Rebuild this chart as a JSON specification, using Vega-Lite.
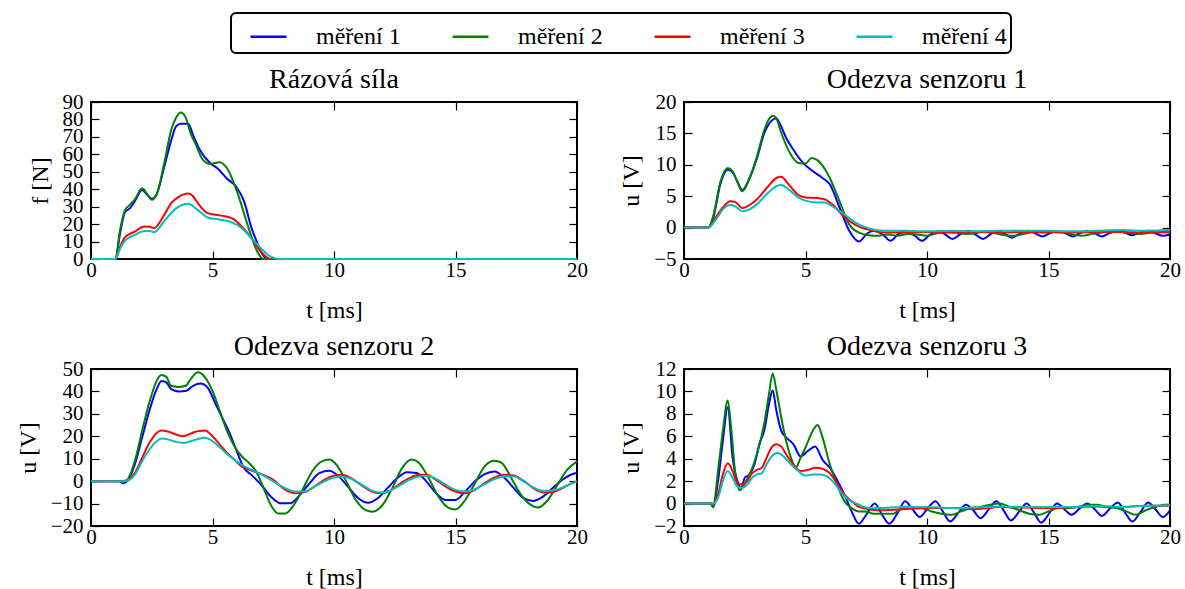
{
"$schema":"https://vega.github.io/schema/vega-lite/v6.json",
"background":"white",
"padding":{"left":15,"top":12,"right":0,"bottom":5},
"datasets":{"d":[
{"p":1,"s":"měření 1","t":0,"v":0},{"p":1,"s":"měření 1","t":1.0,"v":0},{"p":1,"s":"měření 1","t":1.2,"v":15},{"p":1,"s":"měření 1","t":1.4,"v":27},{"p":1,"s":"měření 1","t":1.6,"v":29},{"p":1,"s":"měření 1","t":1.8,"v":33},{"p":1,"s":"měření 1","t":2.1,"v":39.5},{"p":1,"s":"měření 1","t":2.3,"v":37},{"p":1,"s":"měření 1","t":2.5,"v":34.5},{"p":1,"s":"měření 1","t":2.7,"v":37},{"p":1,"s":"měření 1","t":3.0,"v":52},{"p":1,"s":"měření 1","t":3.3,"v":68},{"p":1,"s":"měření 1","t":3.5,"v":76},{"p":1,"s":"měření 1","t":3.7,"v":77.5},{"p":1,"s":"měření 1","t":4.0,"v":77.5},{"p":1,"s":"měření 1","t":4.2,"v":71},{"p":1,"s":"měření 1","t":4.5,"v":62},{"p":1,"s":"měření 1","t":4.9,"v":55},{"p":1,"s":"měření 1","t":5.2,"v":52},{"p":1,"s":"měření 1","t":5.6,"v":46},{"p":1,"s":"měření 1","t":6.0,"v":41},{"p":1,"s":"měření 1","t":6.3,"v":33},{"p":1,"s":"měření 1","t":6.6,"v":18},{"p":1,"s":"měření 1","t":6.85,"v":9},{"p":1,"s":"měření 1","t":7.0,"v":4},{"p":1,"s":"měření 1","t":7.3,"v":0},{"p":1,"s":"měření 1","t":20,"v":0},
{"p":1,"s":"měření 2","t":0,"v":0},{"p":1,"s":"měření 2","t":1.0,"v":0},{"p":1,"s":"měření 2","t":1.2,"v":17},{"p":1,"s":"měření 2","t":1.4,"v":28},{"p":1,"s":"měření 2","t":1.6,"v":31},{"p":1,"s":"měření 2","t":1.8,"v":34},{"p":1,"s":"měření 2","t":2.1,"v":40.5},{"p":1,"s":"měření 2","t":2.3,"v":37.5},{"p":1,"s":"měření 2","t":2.5,"v":34},{"p":1,"s":"měření 2","t":2.7,"v":37},{"p":1,"s":"měření 2","t":3.0,"v":54},{"p":1,"s":"měření 2","t":3.3,"v":74},{"p":1,"s":"měření 2","t":3.5,"v":81},{"p":1,"s":"měření 2","t":3.7,"v":84},{"p":1,"s":"měření 2","t":3.9,"v":81},{"p":1,"s":"měření 2","t":4.1,"v":72},{"p":1,"s":"měření 2","t":4.3,"v":66},{"p":1,"s":"měření 2","t":4.6,"v":57},{"p":1,"s":"měření 2","t":4.9,"v":54.5},{"p":1,"s":"měření 2","t":5.3,"v":55.5},{"p":1,"s":"měření 2","t":5.6,"v":52},{"p":1,"s":"měření 2","t":6.0,"v":39},{"p":1,"s":"měření 2","t":6.4,"v":21.5},{"p":1,"s":"měření 2","t":6.6,"v":13},{"p":1,"s":"měření 2","t":6.85,"v":4},{"p":1,"s":"měření 2","t":7.1,"v":0},{"p":1,"s":"měření 2","t":20,"v":0},
{"p":1,"s":"měření 3","t":0,"v":0},{"p":1,"s":"měření 3","t":1.0,"v":0},{"p":1,"s":"měření 3","t":1.2,"v":7},{"p":1,"s":"měření 3","t":1.4,"v":12.5},{"p":1,"s":"měření 3","t":1.8,"v":15.7},{"p":1,"s":"měření 3","t":2.2,"v":18.6},{"p":1,"s":"měření 3","t":2.4,"v":18.5},{"p":1,"s":"měření 3","t":2.6,"v":17.7},{"p":1,"s":"měření 3","t":3.0,"v":25},{"p":1,"s":"měření 3","t":3.3,"v":32},{"p":1,"s":"měření 3","t":3.6,"v":35.5},{"p":1,"s":"měření 3","t":4.0,"v":37.5},{"p":1,"s":"měření 3","t":4.2,"v":36},{"p":1,"s":"měření 3","t":4.4,"v":32},{"p":1,"s":"měření 3","t":4.8,"v":26.3},{"p":1,"s":"měření 3","t":5.3,"v":25},{"p":1,"s":"měření 3","t":5.8,"v":23.4},{"p":1,"s":"měření 3","t":6.2,"v":18.6},{"p":1,"s":"měření 3","t":6.6,"v":12},{"p":1,"s":"měření 3","t":7.0,"v":4},{"p":1,"s":"měření 3","t":7.4,"v":0},{"p":1,"s":"měření 3","t":20,"v":0},
{"p":1,"s":"měření 4","t":0,"v":0},{"p":1,"s":"měření 4","t":1.0,"v":0},{"p":1,"s":"měření 4","t":1.2,"v":6},{"p":1,"s":"měření 4","t":1.4,"v":10.5},{"p":1,"s":"měření 4","t":1.8,"v":13.8},{"p":1,"s":"měření 4","t":2.2,"v":16},{"p":1,"s":"měření 4","t":2.4,"v":16},{"p":1,"s":"měření 4","t":2.6,"v":15.4},{"p":1,"s":"měření 4","t":3.0,"v":21.5},{"p":1,"s":"měření 4","t":3.5,"v":29},{"p":1,"s":"měření 4","t":4.0,"v":31.7},{"p":1,"s":"měření 4","t":4.4,"v":28},{"p":1,"s":"měření 4","t":4.8,"v":23.8},{"p":1,"s":"měření 4","t":5.3,"v":22.5},{"p":1,"s":"měření 4","t":5.8,"v":21},{"p":1,"s":"měření 4","t":6.2,"v":17.7},{"p":1,"s":"měření 4","t":6.6,"v":12},{"p":1,"s":"měření 4","t":7.0,"v":6},{"p":1,"s":"měření 4","t":7.4,"v":1.3},{"p":1,"s":"měření 4","t":7.7,"v":0},{"p":1,"s":"měření 4","t":20,"v":0},
{"p":2,"s":"měření 1","t":0,"v":0},{"p":2,"s":"měření 1","t":1.0,"v":0},{"p":2,"s":"měření 1","t":1.2,"v":1.5},{"p":2,"s":"měření 1","t":1.5,"v":7},{"p":2,"s":"měření 1","t":1.8,"v":9.2},{"p":2,"s":"měření 1","t":2.0,"v":8.8},{"p":2,"s":"měření 1","t":2.2,"v":7.3},{"p":2,"s":"měření 1","t":2.4,"v":6},{"p":2,"s":"měření 1","t":2.7,"v":7.9},{"p":2,"s":"měření 1","t":3.0,"v":11},{"p":2,"s":"měření 1","t":3.3,"v":15},{"p":2,"s":"měření 1","t":3.6,"v":17},{"p":2,"s":"měření 1","t":3.8,"v":17.4},{"p":2,"s":"měření 1","t":3.9,"v":16.9},{"p":2,"s":"měření 1","t":4.2,"v":14.3},{"p":2,"s":"měření 1","t":4.5,"v":12.4},{"p":2,"s":"měření 1","t":4.9,"v":10.3},{"p":2,"s":"měření 1","t":5.3,"v":9},{"p":2,"s":"měření 1","t":5.7,"v":7.9},{"p":2,"s":"měření 1","t":6.0,"v":6.9},{"p":2,"s":"měření 1","t":6.4,"v":3.2},{"p":2,"s":"měření 1","t":6.8,"v":-0.5},{"p":2,"s":"měření 1","t":7.2,"v":-2.2},{"p":2,"s":"měření 1","t":7.55,"v":-0.9},{"p":2,"s":"měření 1","t":7.85,"v":-0.5},{"p":2,"s":"měření 1","t":8.2,"v":-1.2},{"p":2,"s":"měření 1","t":8.5,"v":-2.1},{"p":2,"s":"měření 1","t":8.8,"v":-1.1},{"p":2,"s":"měření 1","t":9.15,"v":-0.5},{"p":2,"s":"měření 1","t":9.5,"v":-1.3},{"p":2,"s":"měření 1","t":9.8,"v":-2.1},{"p":2,"s":"měření 1","t":10.1,"v":-1.2},{"p":2,"s":"měření 1","t":10.45,"v":-0.6},{"p":2,"s":"měření 1","t":10.75,"v":-1.1},{"p":2,"s":"měření 1","t":11.05,"v":-1.8},{"p":2,"s":"měření 1","t":11.35,"v":-1.1},{"p":2,"s":"měření 1","t":11.7,"v":-0.5},{"p":2,"s":"měření 1","t":12.0,"v":-1.1},{"p":2,"s":"měření 1","t":12.3,"v":-1.8},{"p":2,"s":"měření 1","t":12.6,"v":-1.1},{"p":2,"s":"měření 1","t":12.9,"v":-0.6},{"p":2,"s":"měření 1","t":13.2,"v":-1.0},{"p":2,"s":"měření 1","t":13.5,"v":-1.6},{"p":2,"s":"měření 1","t":13.8,"v":-1.0},{"p":2,"s":"měření 1","t":14.15,"v":-0.5},{"p":2,"s":"měření 1","t":14.45,"v":-0.9},{"p":2,"s":"měření 1","t":14.75,"v":-1.4},{"p":2,"s":"měření 1","t":15.05,"v":-0.9},{"p":2,"s":"měření 1","t":15.4,"v":-0.5},{"p":2,"s":"měření 1","t":15.7,"v":-0.9},{"p":2,"s":"měření 1","t":16.0,"v":-1.4},{"p":2,"s":"měření 1","t":16.3,"v":-0.9},{"p":2,"s":"měření 1","t":16.6,"v":-0.5},{"p":2,"s":"měření 1","t":16.9,"v":-0.9},{"p":2,"s":"měření 1","t":17.2,"v":-1.4},{"p":2,"s":"měření 1","t":17.5,"v":-0.9},{"p":2,"s":"měření 1","t":17.85,"v":-0.5},{"p":2,"s":"měření 1","t":18.15,"v":-0.8},{"p":2,"s":"měření 1","t":18.45,"v":-1.2},{"p":2,"s":"měření 1","t":18.75,"v":-0.8},{"p":2,"s":"měření 1","t":19.1,"v":-0.5},{"p":2,"s":"měření 1","t":19.4,"v":-0.9},{"p":2,"s":"měření 1","t":19.7,"v":-1.3},{"p":2,"s":"měření 1","t":20,"v":-1.1},
{"p":2,"s":"měření 2","t":0,"v":0},{"p":2,"s":"měření 2","t":1.0,"v":0},{"p":2,"s":"měření 2","t":1.2,"v":1.8},{"p":2,"s":"měření 2","t":1.5,"v":7.3},{"p":2,"s":"měření 2","t":1.8,"v":9.5},{"p":2,"s":"měření 2","t":2.0,"v":9.0},{"p":2,"s":"měření 2","t":2.2,"v":7.2},{"p":2,"s":"měření 2","t":2.4,"v":5.8},{"p":2,"s":"měření 2","t":2.7,"v":7.9},{"p":2,"s":"měření 2","t":3.0,"v":11.3},{"p":2,"s":"měření 2","t":3.3,"v":15.5},{"p":2,"s":"měření 2","t":3.5,"v":17.3},{"p":2,"s":"měření 2","t":3.65,"v":17.8},{"p":2,"s":"měření 2","t":3.8,"v":17.4},{"p":2,"s":"měření 2","t":4.0,"v":15.1},{"p":2,"s":"měření 2","t":4.4,"v":11.6},{"p":2,"s":"měření 2","t":4.7,"v":10.3},{"p":2,"s":"měření 2","t":5.0,"v":10.2},{"p":2,"s":"měření 2","t":5.25,"v":11.1},{"p":2,"s":"měření 2","t":5.5,"v":10.7},{"p":2,"s":"měření 2","t":5.8,"v":9.3},{"p":2,"s":"měření 2","t":6.0,"v":7.9},{"p":2,"s":"měření 2","t":6.4,"v":4.2},{"p":2,"s":"měření 2","t":6.8,"v":0.5},{"p":2,"s":"měření 2","t":7.2,"v":-0.8},{"p":2,"s":"měření 2","t":7.6,"v":-1.2},{"p":2,"s":"měření 2","t":8.0,"v":-1.3},{"p":2,"s":"měření 2","t":8.4,"v":-1.1},{"p":2,"s":"měření 2","t":8.8,"v":-1.3},{"p":2,"s":"měření 2","t":9.2,"v":-1.0},{"p":2,"s":"měření 2","t":9.6,"v":-1.1},{"p":2,"s":"měření 2","t":10.0,"v":-1.3},{"p":2,"s":"měření 2","t":10.4,"v":-0.9},{"p":2,"s":"měření 2","t":10.8,"v":-0.7},{"p":2,"s":"měření 2","t":11.2,"v":-0.8},{"p":2,"s":"měření 2","t":11.6,"v":-1.0},{"p":2,"s":"měření 2","t":12.0,"v":-0.9},{"p":2,"s":"měření 2","t":12.4,"v":-0.6},{"p":2,"s":"měření 2","t":12.8,"v":-0.9},{"p":2,"s":"měření 2","t":13.2,"v":-1.2},{"p":2,"s":"měření 2","t":13.6,"v":-1.3},{"p":2,"s":"měření 2","t":14.0,"v":-1.0},{"p":2,"s":"měření 2","t":14.4,"v":-0.7},{"p":2,"s":"měření 2","t":14.8,"v":-0.8},{"p":2,"s":"měření 2","t":15.2,"v":-0.7},{"p":2,"s":"měření 2","t":15.6,"v":-0.8},{"p":2,"s":"měření 2","t":16.0,"v":-1.1},{"p":2,"s":"měření 2","t":16.4,"v":-1.3},{"p":2,"s":"měření 2","t":16.8,"v":-1.0},{"p":2,"s":"měření 2","t":17.2,"v":-0.8},{"p":2,"s":"měření 2","t":17.6,"v":-0.6},{"p":2,"s":"měření 2","t":18.0,"v":-0.7},{"p":2,"s":"měření 2","t":18.4,"v":-0.9},{"p":2,"s":"měření 2","t":18.8,"v":-1.0},{"p":2,"s":"měření 2","t":19.2,"v":-0.8},{"p":2,"s":"měření 2","t":19.6,"v":-0.7},{"p":2,"s":"měření 2","t":20,"v":-0.8},
{"p":2,"s":"měření 3","t":0,"v":0},{"p":2,"s":"měření 3","t":1.0,"v":0},{"p":2,"s":"měření 3","t":1.3,"v":1.6},{"p":2,"s":"měření 3","t":1.6,"v":3.2},{"p":2,"s":"měření 3","t":1.9,"v":4.2},{"p":2,"s":"měření 3","t":2.1,"v":4.1},{"p":2,"s":"měření 3","t":2.4,"v":3.1},{"p":2,"s":"měření 3","t":2.7,"v":3.6},{"p":2,"s":"měření 3","t":3.0,"v":4.5},{"p":2,"s":"měření 3","t":3.4,"v":6.3},{"p":2,"s":"měření 3","t":3.8,"v":7.9},{"p":2,"s":"měření 3","t":4.0,"v":8.1},{"p":2,"s":"měření 3","t":4.3,"v":6.9},{"p":2,"s":"měření 3","t":4.7,"v":5.2},{"p":2,"s":"měření 3","t":5.0,"v":4.8},{"p":2,"s":"měření 3","t":5.5,"v":4.7},{"p":2,"s":"měření 3","t":5.8,"v":4.5},{"p":2,"s":"měření 3","t":6.1,"v":3.7},{"p":2,"s":"měření 3","t":6.5,"v":2.1},{"p":2,"s":"měření 3","t":6.9,"v":0.8},{"p":2,"s":"měření 3","t":7.3,"v":0},{"p":2,"s":"měření 3","t":7.8,"v":-0.5},{"p":2,"s":"měření 3","t":8.3,"v":-0.8},{"p":2,"s":"měření 3","t":9.0,"v":-0.8},{"p":2,"s":"měření 3","t":10.0,"v":-0.7},{"p":2,"s":"měření 3","t":11.0,"v":-0.8},{"p":2,"s":"měření 3","t":12.0,"v":-0.7},{"p":2,"s":"měření 3","t":13.0,"v":-0.8},{"p":2,"s":"měření 3","t":14.0,"v":-0.7},{"p":2,"s":"měření 3","t":15.0,"v":-0.7},{"p":2,"s":"měření 3","t":16.0,"v":-0.8},{"p":2,"s":"měření 3","t":17.0,"v":-0.7},{"p":2,"s":"měření 3","t":18.0,"v":-0.7},{"p":2,"s":"měření 3","t":19.0,"v":-0.8},{"p":2,"s":"měření 3","t":20,"v":-0.7},
{"p":2,"s":"měření 4","t":0,"v":0},{"p":2,"s":"měření 4","t":1.0,"v":0},{"p":2,"s":"měření 4","t":1.3,"v":1.2},{"p":2,"s":"měření 4","t":1.6,"v":2.9},{"p":2,"s":"měření 4","t":1.9,"v":3.6},{"p":2,"s":"měření 4","t":2.1,"v":3.4},{"p":2,"s":"měření 4","t":2.4,"v":2.6},{"p":2,"s":"měření 4","t":2.7,"v":2.9},{"p":2,"s":"měření 4","t":3.0,"v":3.7},{"p":2,"s":"měření 4","t":3.4,"v":5.3},{"p":2,"s":"měření 4","t":3.8,"v":6.6},{"p":2,"s":"měření 4","t":4.0,"v":6.8},{"p":2,"s":"měření 4","t":4.3,"v":6.1},{"p":2,"s":"měření 4","t":4.7,"v":4.8},{"p":2,"s":"měření 4","t":5.0,"v":4.3},{"p":2,"s":"měření 4","t":5.5,"v":4.0},{"p":2,"s":"měření 4","t":5.8,"v":4.0},{"p":2,"s":"měření 4","t":6.1,"v":3.4},{"p":2,"s":"měření 4","t":6.5,"v":2.4},{"p":2,"s":"měření 4","t":6.9,"v":1.2},{"p":2,"s":"měření 4","t":7.3,"v":0.3},{"p":2,"s":"měření 4","t":7.8,"v":-0.3},{"p":2,"s":"měření 4","t":8.3,"v":-0.5},{"p":2,"s":"měření 4","t":9.0,"v":-0.5},{"p":2,"s":"měření 4","t":10.0,"v":-0.6},{"p":2,"s":"měření 4","t":11.0,"v":-0.5},{"p":2,"s":"měření 4","t":12.0,"v":-0.6},{"p":2,"s":"měření 4","t":13.0,"v":-0.5},{"p":2,"s":"měření 4","t":14.0,"v":-0.5},{"p":2,"s":"měření 4","t":15.0,"v":-0.5},{"p":2,"s":"měření 4","t":16.0,"v":-0.6},{"p":2,"s":"měření 4","t":17.0,"v":-0.5},{"p":2,"s":"měření 4","t":18.0,"v":-0.4},{"p":2,"s":"měření 4","t":19.0,"v":-0.5},{"p":2,"s":"měření 4","t":20,"v":-0.4},
{"p":3,"s":"měření 1","t":0,"v":0},{"p":3,"s":"měření 1","t":1.2,"v":0},{"p":3,"s":"měření 1","t":1.3,"v":-0.9},{"p":3,"s":"měření 1","t":1.5,"v":0.1},{"p":3,"s":"měření 1","t":1.8,"v":7.3},{"p":3,"s":"měření 1","t":2.1,"v":19.3},{"p":3,"s":"měření 1","t":2.4,"v":31.3},{"p":3,"s":"měření 1","t":2.7,"v":41},{"p":3,"s":"měření 1","t":2.9,"v":44.7},{"p":3,"s":"měření 1","t":3.1,"v":44},{"p":3,"s":"měření 1","t":3.3,"v":41},{"p":3,"s":"měření 1","t":3.6,"v":40},{"p":3,"s":"měření 1","t":3.9,"v":40.2},{"p":3,"s":"měření 1","t":4.2,"v":42.5},{"p":3,"s":"měření 1","t":4.5,"v":43.5},{"p":3,"s":"měření 1","t":4.8,"v":41.7},{"p":3,"s":"měření 1","t":5.1,"v":35},{"p":3,"s":"měření 1","t":5.4,"v":28.3},{"p":3,"s":"měření 1","t":5.7,"v":21.5},{"p":3,"s":"měření 1","t":6.0,"v":13.3},{"p":3,"s":"měření 1","t":6.3,"v":5.8},{"p":3,"s":"měření 1","t":6.6,"v":2.8},{"p":3,"s":"měření 1","t":7.0,"v":-1.6},{"p":3,"s":"měření 1","t":7.4,"v":-6.9},{"p":3,"s":"měření 1","t":7.8,"v":-9.9},{"p":3,"s":"měření 1","t":8.2,"v":-9.9},{"p":3,"s":"měření 1","t":8.6,"v":-6.1},{"p":3,"s":"měření 1","t":9.0,"v":-0.9},{"p":3,"s":"měření 1","t":9.4,"v":3.6},{"p":3,"s":"měření 1","t":9.8,"v":4.6},{"p":3,"s":"měření 1","t":10.2,"v":2.1},{"p":3,"s":"měření 1","t":10.6,"v":-2.8},{"p":3,"s":"měření 1","t":11.0,"v":-7.6},{"p":3,"s":"měření 1","t":11.4,"v":-9.6},{"p":3,"s":"měření 1","t":11.8,"v":-7.6},{"p":3,"s":"měření 1","t":12.2,"v":-3.1},{"p":3,"s":"měření 1","t":12.6,"v":1.3},{"p":3,"s":"měření 1","t":13.0,"v":4},{"p":3,"s":"měření 1","t":13.4,"v":3.6},{"p":3,"s":"měření 1","t":13.8,"v":-0.1},{"p":3,"s":"měření 1","t":14.2,"v":-5.4},{"p":3,"s":"měření 1","t":14.6,"v":-8.4},{"p":3,"s":"měření 1","t":15.0,"v":-8.4},{"p":3,"s":"měření 1","t":15.4,"v":-4.6},{"p":3,"s":"měření 1","t":15.8,"v":-0.1},{"p":3,"s":"měření 1","t":16.2,"v":3.1},{"p":3,"s":"měření 1","t":16.6,"v":4.3},{"p":3,"s":"měření 1","t":17.0,"v":1.6},{"p":3,"s":"měření 1","t":17.4,"v":-3.1},{"p":3,"s":"měření 1","t":17.8,"v":-7.6},{"p":3,"s":"měření 1","t":18.2,"v":-8.8},{"p":3,"s":"měření 1","t":18.6,"v":-6.9},{"p":3,"s":"měření 1","t":19.0,"v":-3.1},{"p":3,"s":"měření 1","t":19.4,"v":0.6},{"p":3,"s":"měření 1","t":19.8,"v":3.1},{"p":3,"s":"měření 1","t":20,"v":3.6},
{"p":3,"s":"měření 2","t":0,"v":0},{"p":3,"s":"měření 2","t":1.2,"v":0},{"p":3,"s":"měření 2","t":1.3,"v":-0.6},{"p":3,"s":"měření 2","t":1.5,"v":0.6},{"p":3,"s":"měření 2","t":1.8,"v":8.8},{"p":3,"s":"měření 2","t":2.1,"v":22.3},{"p":3,"s":"měření 2","t":2.4,"v":35},{"p":3,"s":"měření 2","t":2.7,"v":44.7},{"p":3,"s":"měření 2","t":2.9,"v":47.3},{"p":3,"s":"měření 2","t":3.1,"v":46.5},{"p":3,"s":"měření 2","t":3.3,"v":42.5},{"p":3,"s":"měření 2","t":3.6,"v":42},{"p":3,"s":"měření 2","t":3.9,"v":42.5},{"p":3,"s":"měření 2","t":4.1,"v":45.5},{"p":3,"s":"měření 2","t":4.4,"v":48.5},{"p":3,"s":"měření 2","t":4.7,"v":46.2},{"p":3,"s":"měření 2","t":5.0,"v":40.2},{"p":3,"s":"měření 2","t":5.3,"v":31.3},{"p":3,"s":"měření 2","t":5.6,"v":22.3},{"p":3,"s":"měření 2","t":5.9,"v":15.6},{"p":3,"s":"měření 2","t":6.2,"v":11.1},{"p":3,"s":"měření 2","t":6.5,"v":8.1},{"p":3,"s":"měření 2","t":6.8,"v":4.3},{"p":3,"s":"měření 2","t":7.1,"v":-3.1},{"p":3,"s":"měření 2","t":7.4,"v":-10.6},{"p":3,"s":"měření 2","t":7.7,"v":-14.4},{"p":3,"s":"měření 2","t":8.0,"v":-14.4},{"p":3,"s":"měření 2","t":8.3,"v":-11.4},{"p":3,"s":"měření 2","t":8.7,"v":-3.9},{"p":3,"s":"měření 2","t":9.1,"v":4.3},{"p":3,"s":"měření 2","t":9.5,"v":8.8},{"p":3,"s":"měření 2","t":9.8,"v":9.6},{"p":3,"s":"měření 2","t":10.1,"v":7.3},{"p":3,"s":"měření 2","t":10.5,"v":-0.1},{"p":3,"s":"měření 2","t":10.9,"v":-8.4},{"p":3,"s":"měření 2","t":11.3,"v":-12.9},{"p":3,"s":"měření 2","t":11.6,"v":-13.6},{"p":3,"s":"měření 2","t":12.0,"v":-10.6},{"p":3,"s":"měření 2","t":12.4,"v":-3.1},{"p":3,"s":"měření 2","t":12.8,"v":5.8},{"p":3,"s":"měření 2","t":13.2,"v":9.6},{"p":3,"s":"měření 2","t":13.5,"v":8.1},{"p":3,"s":"měření 2","t":13.9,"v":1.3},{"p":3,"s":"měření 2","t":14.3,"v":-6.9},{"p":3,"s":"měření 2","t":14.7,"v":-11.8},{"p":3,"s":"měření 2","t":15.0,"v":-12.6},{"p":3,"s":"měření 2","t":15.4,"v":-8.4},{"p":3,"s":"měření 2","t":15.8,"v":-0.9},{"p":3,"s":"měření 2","t":16.2,"v":6.6},{"p":3,"s":"měření 2","t":16.6,"v":9.1},{"p":3,"s":"měření 2","t":16.9,"v":8.1},{"p":3,"s":"měření 2","t":17.3,"v":1.3},{"p":3,"s":"měření 2","t":17.7,"v":-6.1},{"p":3,"s":"měření 2","t":18.1,"v":-10.6},{"p":3,"s":"měření 2","t":18.4,"v":-11.8},{"p":3,"s":"měření 2","t":18.8,"v":-8.4},{"p":3,"s":"měření 2","t":19.2,"v":-1.6},{"p":3,"s":"měření 2","t":19.6,"v":5.1},{"p":3,"s":"měření 2","t":20,"v":8.8},
{"p":3,"s":"měření 3","t":0,"v":0},{"p":3,"s":"měření 3","t":1.3,"v":0},{"p":3,"s":"měření 3","t":1.5,"v":0.5},{"p":3,"s":"měření 3","t":1.8,"v":3.6},{"p":3,"s":"měření 3","t":2.1,"v":10.3},{"p":3,"s":"měření 3","t":2.4,"v":17},{"p":3,"s":"měření 3","t":2.7,"v":21.5},{"p":3,"s":"měření 3","t":2.9,"v":22.6},{"p":3,"s":"měření 3","t":3.2,"v":22},{"p":3,"s":"měření 3","t":3.5,"v":20.8},{"p":3,"s":"měření 3","t":3.8,"v":20},{"p":3,"s":"měření 3","t":4.1,"v":21.2},{"p":3,"s":"měření 3","t":4.4,"v":22.3},{"p":3,"s":"měření 3","t":4.7,"v":22.6},{"p":3,"s":"měření 3","t":5.0,"v":20},{"p":3,"s":"měření 3","t":5.3,"v":16.3},{"p":3,"s":"měření 3","t":5.6,"v":12.6},{"p":3,"s":"měření 3","t":5.9,"v":9.6},{"p":3,"s":"měření 3","t":6.2,"v":6.6},{"p":3,"s":"měření 3","t":6.5,"v":5.1},{"p":3,"s":"měření 3","t":7.0,"v":3.1},{"p":3,"s":"měření 3","t":7.5,"v":0.6},{"p":3,"s":"měření 3","t":8.0,"v":-3.9},{"p":3,"s":"měření 3","t":8.4,"v":-5.4},{"p":3,"s":"měření 3","t":8.8,"v":-4.9},{"p":3,"s":"měření 3","t":9.2,"v":-2.4},{"p":3,"s":"měření 3","t":9.6,"v":0.6},{"p":3,"s":"měření 3","t":10.0,"v":2.4},{"p":3,"s":"měření 3","t":10.3,"v":2.8},{"p":3,"s":"měření 3","t":10.7,"v":1.3},{"p":3,"s":"měření 3","t":11.1,"v":-1.6},{"p":3,"s":"měření 3","t":11.5,"v":-4.3},{"p":3,"s":"měření 3","t":11.9,"v":-5.4},{"p":3,"s":"měření 3","t":12.3,"v":-4.3},{"p":3,"s":"měření 3","t":12.7,"v":-1.3},{"p":3,"s":"měření 3","t":13.1,"v":1.3},{"p":3,"s":"měření 3","t":13.5,"v":2.8},{"p":3,"s":"měření 3","t":13.8,"v":2.8},{"p":3,"s":"měření 3","t":14.2,"v":0.6},{"p":3,"s":"měření 3","t":14.6,"v":-2.4},{"p":3,"s":"měření 3","t":15.0,"v":-4.6},{"p":3,"s":"měření 3","t":15.4,"v":-5.4},{"p":3,"s":"měření 3","t":15.8,"v":-3.9},{"p":3,"s":"měření 3","t":16.2,"v":-0.9},{"p":3,"s":"měření 3","t":16.6,"v":1.6},{"p":3,"s":"měření 3","t":17.0,"v":2.8},{"p":3,"s":"měření 3","t":17.4,"v":2.5},{"p":3,"s":"měření 3","t":17.8,"v":0.1},{"p":3,"s":"měření 3","t":18.2,"v":-3.1},{"p":3,"s":"měření 3","t":18.6,"v":-5.1},{"p":3,"s":"měření 3","t":19.0,"v":-4.9},{"p":3,"s":"měření 3","t":19.4,"v":-3.1},{"p":3,"s":"měření 3","t":19.8,"v":-0.9},{"p":3,"s":"měření 3","t":20,"v":-0.1},
{"p":3,"s":"měření 4","t":0,"v":0},{"p":3,"s":"měření 4","t":1.3,"v":0},{"p":3,"s":"měření 4","t":1.5,"v":0.3},{"p":3,"s":"měření 4","t":1.8,"v":2.8},{"p":3,"s":"měření 4","t":2.1,"v":8.8},{"p":3,"s":"měření 4","t":2.4,"v":14},{"p":3,"s":"měření 4","t":2.7,"v":17.8},{"p":3,"s":"měření 4","t":2.9,"v":19},{"p":3,"s":"měření 4","t":3.2,"v":18.5},{"p":3,"s":"měření 4","t":3.5,"v":17.5},{"p":3,"s":"měření 4","t":3.8,"v":17},{"p":3,"s":"měření 4","t":4.1,"v":17.8},{"p":3,"s":"měření 4","t":4.4,"v":18.8},{"p":3,"s":"měření 4","t":4.7,"v":19.3},{"p":3,"s":"měření 4","t":5.0,"v":17.8},{"p":3,"s":"měření 4","t":5.3,"v":15.1},{"p":3,"s":"měření 4","t":5.6,"v":12.1},{"p":3,"s":"měření 4","t":5.9,"v":9.6},{"p":3,"s":"měření 4","t":6.2,"v":7.3},{"p":3,"s":"měření 4","t":6.6,"v":5.1},{"p":3,"s":"měření 4","t":7.0,"v":3.1},{"p":3,"s":"měření 4","t":7.5,"v":-0.1},{"p":3,"s":"měření 4","t":8.0,"v":-3.1},{"p":3,"s":"měření 4","t":8.4,"v":-4.6},{"p":3,"s":"měření 4","t":8.8,"v":-4.6},{"p":3,"s":"měření 4","t":9.2,"v":-2.4},{"p":3,"s":"měření 4","t":9.6,"v":-0.1},{"p":3,"s":"měření 4","t":10.0,"v":1.6},{"p":3,"s":"měření 4","t":10.3,"v":2.1},{"p":3,"s":"měření 4","t":10.7,"v":1},{"p":3,"s":"měření 4","t":11.1,"v":-1.3},{"p":3,"s":"měření 4","t":11.5,"v":-3.9},{"p":3,"s":"měření 4","t":11.9,"v":-5.1},{"p":3,"s":"měření 4","t":12.3,"v":-4.3},{"p":3,"s":"měření 4","t":12.7,"v":-1.9},{"p":3,"s":"měření 4","t":13.1,"v":0.6},{"p":3,"s":"měření 4","t":13.5,"v":2.1},{"p":3,"s":"měření 4","t":13.8,"v":2.4},{"p":3,"s":"měření 4","t":14.2,"v":1},{"p":3,"s":"měření 4","t":14.6,"v":-1.6},{"p":3,"s":"měření 4","t":15.0,"v":-3.9},{"p":3,"s":"měření 4","t":15.4,"v":-4.6},{"p":3,"s":"měření 4","t":15.8,"v":-3.6},{"p":3,"s":"měření 4","t":16.2,"v":-1.3},{"p":3,"s":"měření 4","t":16.6,"v":0.9},{"p":3,"s":"měření 4","t":17.0,"v":2.1},{"p":3,"s":"měření 4","t":17.4,"v":2.1},{"p":3,"s":"měření 4","t":17.8,"v":-0.1},{"p":3,"s":"měření 4","t":18.2,"v":-2.8},{"p":3,"s":"měření 4","t":18.6,"v":-4.3},{"p":3,"s":"měření 4","t":19.0,"v":-4.2},{"p":3,"s":"měření 4","t":19.4,"v":-2.8},{"p":3,"s":"měření 4","t":19.8,"v":-0.9},{"p":3,"s":"měření 4","t":20,"v":-0.1},
{"p":4,"s":"měření 1","t":0,"v":0},{"p":4,"s":"měření 1","t":1.1,"v":0},{"p":4,"s":"měření 1","t":1.2,"v":-0.3},{"p":4,"s":"měření 1","t":1.4,"v":2},{"p":4,"s":"měření 1","t":1.6,"v":5.6},{"p":4,"s":"měření 1","t":1.8,"v":8.6},{"p":4,"s":"měření 1","t":2.0,"v":4.1},{"p":4,"s":"měření 1","t":2.2,"v":2},{"p":4,"s":"měření 1","t":2.35,"v":1.4},{"p":4,"s":"měření 1","t":2.5,"v":2.3},{"p":4,"s":"měření 1","t":2.7,"v":2.6},{"p":4,"s":"měření 1","t":2.9,"v":3.5},{"p":4,"s":"měření 1","t":3.1,"v":5.3},{"p":4,"s":"měření 1","t":3.3,"v":6.5},{"p":4,"s":"měření 1","t":3.5,"v":8.9},{"p":4,"s":"měření 1","t":3.65,"v":10.1},{"p":4,"s":"měření 1","t":3.8,"v":8.3},{"p":4,"s":"měření 1","t":4.0,"v":6.5},{"p":4,"s":"měření 1","t":4.2,"v":5.9},{"p":4,"s":"měření 1","t":4.5,"v":5.3},{"p":4,"s":"měření 1","t":4.8,"v":4.2},{"p":4,"s":"měření 1","t":5.1,"v":4.7},{"p":4,"s":"měření 1","t":5.4,"v":5.1},{"p":4,"s":"měření 1","t":5.7,"v":3.9},{"p":4,"s":"měření 1","t":6.0,"v":3.2},{"p":4,"s":"měření 1","t":6.3,"v":2.1},{"p":4,"s":"měření 1","t":6.6,"v":0.8},{"p":4,"s":"měření 1","t":6.9,"v":-0.7},{"p":4,"s":"měření 1","t":7.2,"v":-1.8},{"p":4,"s":"měření 1","t":7.5,"v":-1.0},{"p":4,"s":"měření 1","t":7.85,"v":0},{"p":4,"s":"měření 1","t":8.15,"v":-1.0},{"p":4,"s":"měření 1","t":8.45,"v":-1.8},{"p":4,"s":"měření 1","t":8.8,"v":-0.8},{"p":4,"s":"měření 1","t":9.1,"v":0.2},{"p":4,"s":"měření 1","t":9.4,"v":-0.5},{"p":4,"s":"měření 1","t":9.7,"v":-1.2},{"p":4,"s":"měření 1","t":10.0,"v":-0.5},{"p":4,"s":"měření 1","t":10.35,"v":0.2},{"p":4,"s":"měření 1","t":10.65,"v":-0.7},{"p":4,"s":"měření 1","t":10.95,"v":-1.6},{"p":4,"s":"měření 1","t":11.3,"v":-0.8},{"p":4,"s":"měření 1","t":11.6,"v":-0.1},{"p":4,"s":"měření 1","t":11.9,"v":-0.6},{"p":4,"s":"měření 1","t":12.2,"v":-1.3},{"p":4,"s":"měření 1","t":12.55,"v":-0.5},{"p":4,"s":"měření 1","t":12.85,"v":0.2},{"p":4,"s":"měření 1","t":13.15,"v":-0.6},{"p":4,"s":"měření 1","t":13.45,"v":-1.5},{"p":4,"s":"měření 1","t":13.8,"v":-0.7},{"p":4,"s":"měření 1","t":14.1,"v":0},{"p":4,"s":"měření 1","t":14.4,"v":-0.8},{"p":4,"s":"měření 1","t":14.7,"v":-1.7},{"p":4,"s":"měření 1","t":15.05,"v":-0.8},{"p":4,"s":"měření 1","t":15.35,"v":0},{"p":4,"s":"měření 1","t":15.65,"v":-0.5},{"p":4,"s":"měření 1","t":15.95,"v":-1.0},{"p":4,"s":"měření 1","t":16.3,"v":-0.4},{"p":4,"s":"měření 1","t":16.6,"v":0},{"p":4,"s":"měření 1","t":16.9,"v":-0.5},{"p":4,"s":"měření 1","t":17.2,"v":-1.1},{"p":4,"s":"měření 1","t":17.55,"v":-0.4},{"p":4,"s":"měření 1","t":17.85,"v":0.1},{"p":4,"s":"měření 1","t":18.15,"v":-0.8},{"p":4,"s":"měření 1","t":18.45,"v":-1.6},{"p":4,"s":"měření 1","t":18.8,"v":-0.7},{"p":4,"s":"měření 1","t":19.1,"v":0.1},{"p":4,"s":"měření 1","t":19.4,"v":-0.5},{"p":4,"s":"měření 1","t":19.7,"v":-1.2},{"p":4,"s":"měření 1","t":20,"v":-0.6},
{"p":4,"s":"měření 2","t":0,"v":0},{"p":4,"s":"měření 2","t":1.1,"v":0},{"p":4,"s":"měření 2","t":1.2,"v":-0.3},{"p":4,"s":"měření 2","t":1.4,"v":2.9},{"p":4,"s":"měření 2","t":1.6,"v":6.5},{"p":4,"s":"měření 2","t":1.8,"v":9.2},{"p":4,"s":"měření 2","t":1.95,"v":6.5},{"p":4,"s":"měření 2","t":2.1,"v":2.9},{"p":4,"s":"měření 2","t":2.3,"v":1.2},{"p":4,"s":"měření 2","t":2.5,"v":1.8},{"p":4,"s":"měření 2","t":2.7,"v":2.6},{"p":4,"s":"měření 2","t":3.0,"v":4.4},{"p":4,"s":"měření 2","t":3.3,"v":7.1},{"p":4,"s":"měření 2","t":3.5,"v":9.8},{"p":4,"s":"měření 2","t":3.65,"v":11.6},{"p":4,"s":"měření 2","t":3.8,"v":10.1},{"p":4,"s":"měření 2","t":4.0,"v":7.7},{"p":4,"s":"měření 2","t":4.2,"v":5.6},{"p":4,"s":"měření 2","t":4.4,"v":4.1},{"p":4,"s":"měření 2","t":4.6,"v":3.2},{"p":4,"s":"měření 2","t":4.8,"v":4.1},{"p":4,"s":"měření 2","t":5.0,"v":5},{"p":4,"s":"měření 2","t":5.3,"v":6.5},{"p":4,"s":"měření 2","t":5.5,"v":7},{"p":4,"s":"měření 2","t":5.7,"v":5.9},{"p":4,"s":"měření 2","t":6.0,"v":3.5},{"p":4,"s":"měření 2","t":6.3,"v":1.7},{"p":4,"s":"měření 2","t":6.6,"v":0.2},{"p":4,"s":"měření 2","t":6.9,"v":-0.4},{"p":4,"s":"měření 2","t":7.2,"v":-0.7},{"p":4,"s":"měření 2","t":7.5,"v":-0.7},{"p":4,"s":"měření 2","t":7.8,"v":-0.9},{"p":4,"s":"měření 2","t":8.2,"v":-0.9},{"p":4,"s":"měření 2","t":8.6,"v":-0.9},{"p":4,"s":"měření 2","t":9.0,"v":-0.4},{"p":4,"s":"měření 2","t":9.4,"v":-0.3},{"p":4,"s":"měření 2","t":9.8,"v":-0.4},{"p":4,"s":"měření 2","t":10.2,"v":-0.7},{"p":4,"s":"měření 2","t":10.6,"v":-0.9},{"p":4,"s":"měření 2","t":11.0,"v":-1.0},{"p":4,"s":"měření 2","t":11.4,"v":-0.7},{"p":4,"s":"měření 2","t":11.8,"v":-0.4},{"p":4,"s":"měření 2","t":12.2,"v":-0.3},{"p":4,"s":"měření 2","t":12.6,"v":-0.1},{"p":4,"s":"měření 2","t":13.0,"v":0},{"p":4,"s":"měření 2","t":13.4,"v":-0.3},{"p":4,"s":"měření 2","t":13.8,"v":-0.6},{"p":4,"s":"měření 2","t":14.2,"v":-0.9},{"p":4,"s":"měření 2","t":14.6,"v":-1.0},{"p":4,"s":"měření 2","t":15.0,"v":-0.7},{"p":4,"s":"měření 2","t":15.4,"v":-0.4},{"p":4,"s":"měření 2","t":15.8,"v":-0.4},{"p":4,"s":"měření 2","t":16.2,"v":-0.3},{"p":4,"s":"měření 2","t":16.6,"v":-0.1},{"p":4,"s":"měření 2","t":17.0,"v":-0.1},{"p":4,"s":"měření 2","t":17.4,"v":-0.3},{"p":4,"s":"měření 2","t":17.8,"v":-0.4},{"p":4,"s":"měření 2","t":18.2,"v":-0.7},{"p":4,"s":"měření 2","t":18.6,"v":-1.0},{"p":4,"s":"měření 2","t":19.0,"v":-0.6},{"p":4,"s":"měření 2","t":19.4,"v":-0.3},{"p":4,"s":"měření 2","t":19.8,"v":-0.1},{"p":4,"s":"měření 2","t":20,"v":-0.1},
{"p":4,"s":"měření 3","t":0,"v":0},{"p":4,"s":"měření 3","t":1.2,"v":0},{"p":4,"s":"měření 3","t":1.4,"v":0.8},{"p":4,"s":"měření 3","t":1.6,"v":2.6},{"p":4,"s":"měření 3","t":1.8,"v":3.6},{"p":4,"s":"měření 3","t":2.0,"v":2.9},{"p":4,"s":"měření 3","t":2.2,"v":1.8},{"p":4,"s":"měření 3","t":2.4,"v":1.7},{"p":4,"s":"měření 3","t":2.6,"v":2},{"p":4,"s":"měření 3","t":2.8,"v":2.7},{"p":4,"s":"měření 3","t":3.0,"v":3},{"p":4,"s":"měření 3","t":3.2,"v":3.2},{"p":4,"s":"měření 3","t":3.4,"v":4.1},{"p":4,"s":"měření 3","t":3.6,"v":5},{"p":4,"s":"měření 3","t":3.8,"v":5.3},{"p":4,"s":"měření 3","t":4.0,"v":5.1},{"p":4,"s":"měření 3","t":4.2,"v":4.4},{"p":4,"s":"měření 3","t":4.5,"v":3.5},{"p":4,"s":"měření 3","t":4.8,"v":2.9},{"p":4,"s":"měření 3","t":5.1,"v":3},{"p":4,"s":"měření 3","t":5.4,"v":3.2},{"p":4,"s":"měření 3","t":5.7,"v":3.1},{"p":4,"s":"měření 3","t":6.0,"v":2.7},{"p":4,"s":"měření 3","t":6.3,"v":1.8},{"p":4,"s":"měření 3","t":6.6,"v":0.8},{"p":4,"s":"měření 3","t":6.9,"v":0.2},{"p":4,"s":"měření 3","t":7.2,"v":-0.3},{"p":4,"s":"měření 3","t":7.6,"v":-0.5},{"p":4,"s":"měření 3","t":8.0,"v":-0.6},{"p":4,"s":"měření 3","t":9.0,"v":-0.5},{"p":4,"s":"měření 3","t":10.0,"v":-0.4},{"p":4,"s":"měření 3","t":11.0,"v":-0.4},{"p":4,"s":"měření 3","t":12.0,"v":-0.5},{"p":4,"s":"měření 3","t":13.0,"v":-0.3},{"p":4,"s":"měření 3","t":14.0,"v":-0.35},{"p":4,"s":"měření 3","t":15.0,"v":-0.4},{"p":4,"s":"měření 3","t":16.0,"v":-0.3},{"p":4,"s":"měření 3","t":17.0,"v":-0.25},{"p":4,"s":"měření 3","t":18.0,"v":-0.3},{"p":4,"s":"měření 3","t":19.0,"v":-0.2},{"p":4,"s":"měření 3","t":20,"v":-0.2},
{"p":4,"s":"měření 4","t":0,"v":0},{"p":4,"s":"měření 4","t":1.2,"v":0},{"p":4,"s":"měření 4","t":1.4,"v":0.5},{"p":4,"s":"měření 4","t":1.6,"v":2},{"p":4,"s":"měření 4","t":1.8,"v":2.9},{"p":4,"s":"měření 4","t":2.0,"v":2.3},{"p":4,"s":"měření 4","t":2.2,"v":1.5},{"p":4,"s":"měření 4","t":2.4,"v":1.4},{"p":4,"s":"měření 4","t":2.6,"v":1.7},{"p":4,"s":"měření 4","t":2.8,"v":2.3},{"p":4,"s":"měření 4","t":3.0,"v":2.6},{"p":4,"s":"měření 4","t":3.2,"v":2.7},{"p":4,"s":"měření 4","t":3.4,"v":3.5},{"p":4,"s":"měření 4","t":3.6,"v":4.2},{"p":4,"s":"měření 4","t":3.85,"v":4.5},{"p":4,"s":"měření 4","t":4.1,"v":4.2},{"p":4,"s":"měření 4","t":4.4,"v":3.5},{"p":4,"s":"měření 4","t":4.7,"v":2.9},{"p":4,"s":"měření 4","t":5.0,"v":2.5},{"p":4,"s":"měření 4","t":5.3,"v":2.6},{"p":4,"s":"měření 4","t":5.6,"v":2.6},{"p":4,"s":"měření 4","t":5.9,"v":2.4},{"p":4,"s":"měření 4","t":6.2,"v":1.8},{"p":4,"s":"měření 4","t":6.5,"v":0.9},{"p":4,"s":"měření 4","t":6.8,"v":0.3},{"p":4,"s":"měření 4","t":7.2,"v":-0.1},{"p":4,"s":"měření 4","t":7.6,"v":-0.4},{"p":4,"s":"měření 4","t":8.0,"v":-0.4},{"p":4,"s":"měření 4","t":9.0,"v":-0.3},{"p":4,"s":"měření 4","t":10.0,"v":-0.3},{"p":4,"s":"měření 4","t":11.0,"v":-0.4},{"p":4,"s":"měření 4","t":12.0,"v":-0.35},{"p":4,"s":"měření 4","t":13.0,"v":-0.25},{"p":4,"s":"měření 4","t":14.0,"v":-0.3},{"p":4,"s":"měření 4","t":15.0,"v":-0.3},{"p":4,"s":"měření 4","t":16.0,"v":-0.3},{"p":4,"s":"měření 4","t":17.0,"v":-0.2},{"p":4,"s":"měření 4","t":18.0,"v":-0.3},{"p":4,"s":"měření 4","t":19.0,"v":-0.2},{"p":4,"s":"měření 4","t":20,"v":-0.15}
]},
"data":{"name":"d"},
"columns":2,
"spacing":{"row":110,"column":107},
"bounds":"flush",
"concat":[
{"width":486,"height":157,"title":"Rázová síla","transform":[{"filter":"datum.p == 1"}],
 "layer":[
 {"mark":{"type":"line","strokeWidth":2,"interpolate":"monotone"},
  "encoding":{
   "x":{"field":"t","type":"quantitative","scale":{"domain":[0,20],"nice":false,"zero":false},"axis":{"values":[0,5,10,15,20],"title":"t [ms]"}},
   "y":{"field":"v","type":"quantitative","scale":{"domain":[0,90],"nice":false,"zero":false},"axis":{"values":[0,10,20,30,40,50,60,70,80,90],"title":"f [N]"}},
   "color":{"field":"s","type":"nominal","title":null,"scale":{"domain":["měření 1","měření 2","měření 3","měření 4"],"range":["#0000ff","#008000","#ff0000","#00bfbf"]}}}},
 {"mark":{"type":"line","opacity":0},
  "encoding":{
   "x":{"field":"t","type":"quantitative","axis":{"orient":"top","values":[0,5,10,15,20],"labels":false,"title":null}},
   "y":{"field":"v","type":"quantitative","axis":{"orient":"right","values":[0,10,20,30,40,50,60,70,80,90],"labels":false,"title":null}}}}
 ],
 "resolve":{"axis":{"x":"independent","y":"independent"}}},
{"width":486,"height":157,"title":"Odezva senzoru 1","transform":[{"filter":"datum.p == 2"}],
 "layer":[
 {"mark":{"type":"line","strokeWidth":2,"interpolate":"monotone"},
  "encoding":{
   "x":{"field":"t","type":"quantitative","scale":{"domain":[0,20],"nice":false,"zero":false},"axis":{"values":[0,5,10,15,20],"title":"t [ms]"}},
   "y":{"field":"v","type":"quantitative","scale":{"domain":[-5,20],"nice":false,"zero":false},"axis":{"values":[-5,0,5,10,15,20],"title":"u [V]"}},
   "color":{"field":"s","type":"nominal","title":null,"scale":{"domain":["měření 1","měření 2","měření 3","měření 4"],"range":["#0000ff","#008000","#ff0000","#00bfbf"]}}}},
 {"mark":{"type":"line","opacity":0},
  "encoding":{
   "x":{"field":"t","type":"quantitative","axis":{"orient":"top","values":[0,5,10,15,20],"labels":false,"title":null}},
   "y":{"field":"v","type":"quantitative","axis":{"orient":"right","values":[-5,0,5,10,15,20],"labels":false,"title":null}}}}
 ],
 "resolve":{"axis":{"x":"independent","y":"independent"}}},
{"width":486,"height":157,"title":"Odezva senzoru 2","transform":[{"filter":"datum.p == 3"}],
 "layer":[
 {"mark":{"type":"line","strokeWidth":2,"interpolate":"monotone"},
  "encoding":{
   "x":{"field":"t","type":"quantitative","scale":{"domain":[0,20],"nice":false,"zero":false},"axis":{"values":[0,5,10,15,20],"title":"t [ms]"}},
   "y":{"field":"v","type":"quantitative","scale":{"domain":[-20,50],"nice":false,"zero":false},"axis":{"values":[-20,-10,0,10,20,30,40,50],"title":"u [V]"}},
   "color":{"field":"s","type":"nominal","title":null,"scale":{"domain":["měření 1","měření 2","měření 3","měření 4"],"range":["#0000ff","#008000","#ff0000","#00bfbf"]}}}},
 {"mark":{"type":"line","opacity":0},
  "encoding":{
   "x":{"field":"t","type":"quantitative","axis":{"orient":"top","values":[0,5,10,15,20],"labels":false,"title":null}},
   "y":{"field":"v","type":"quantitative","axis":{"orient":"right","values":[-20,-10,0,10,20,30,40,50],"labels":false,"title":null}}}}
 ],
 "resolve":{"axis":{"x":"independent","y":"independent"}}},
{"width":486,"height":157,"title":"Odezva senzoru 3","transform":[{"filter":"datum.p == 4"}],
 "layer":[
 {"mark":{"type":"line","strokeWidth":2,"interpolate":"monotone"},
  "encoding":{
   "x":{"field":"t","type":"quantitative","scale":{"domain":[0,20],"nice":false,"zero":false},"axis":{"values":[0,5,10,15,20],"title":"t [ms]"}},
   "y":{"field":"v","type":"quantitative","scale":{"domain":[-2,12],"nice":false,"zero":false},"axis":{"values":[-2,0,2,4,6,8,10,12],"title":"u [V]"}},
   "color":{"field":"s","type":"nominal","title":null,"scale":{"domain":["měření 1","měření 2","měření 3","měření 4"],"range":["#0000ff","#008000","#ff0000","#00bfbf"]}}}},
 {"mark":{"type":"line","opacity":0},
  "encoding":{
   "x":{"field":"t","type":"quantitative","axis":{"orient":"top","values":[0,5,10,15,20],"labels":false,"title":null}},
   "y":{"field":"v","type":"quantitative","axis":{"orient":"right","values":[-2,0,2,4,6,8,10,12],"labels":false,"title":null}}}}
 ],
 "resolve":{"axis":{"x":"independent","y":"independent"}}}
],
"config":{
 "font":"Liberation Serif",
 "view":{"stroke":"black","strokeWidth":2},
 "axis":{"domain":false,"grid":false,"tickSize":-8,"tickColor":"black","tickWidth":1.2,"labelFont":"Liberation Serif","labelFontSize":21,"labelColor":"black","labelOverlap":false,"labelBound":false,"labelFlush":false,"titleFont":"Liberation Serif","titleFontSize":24,"titleFontWeight":"normal","titleColor":"black"},
 "axisX":{"labelPadding":8,"titlePadding":18},
 "axisY":{"labelPadding":16,"titlePadding":10},
 "title":{"font":"Liberation Serif","fontSize":28,"fontWeight":"normal","color":"black","offset":-3},
 "legend":{"orient":"none","legendX":140,"legendY":-89,"direction":"horizontal","columns":4,"symbolType":"stroke","symbolSize":1296,"symbolStrokeWidth":2.5,"symbolOffset":14,"labelFont":"Liberation Serif","labelFontSize":24,"labelColor":"black","labelOffset":28,"labelLimit":0,"columnPadding":36,"padding":4,"strokeColor":"black","strokeWidth":2,"cornerRadius":5,"fillColor":"white"}
}
}
